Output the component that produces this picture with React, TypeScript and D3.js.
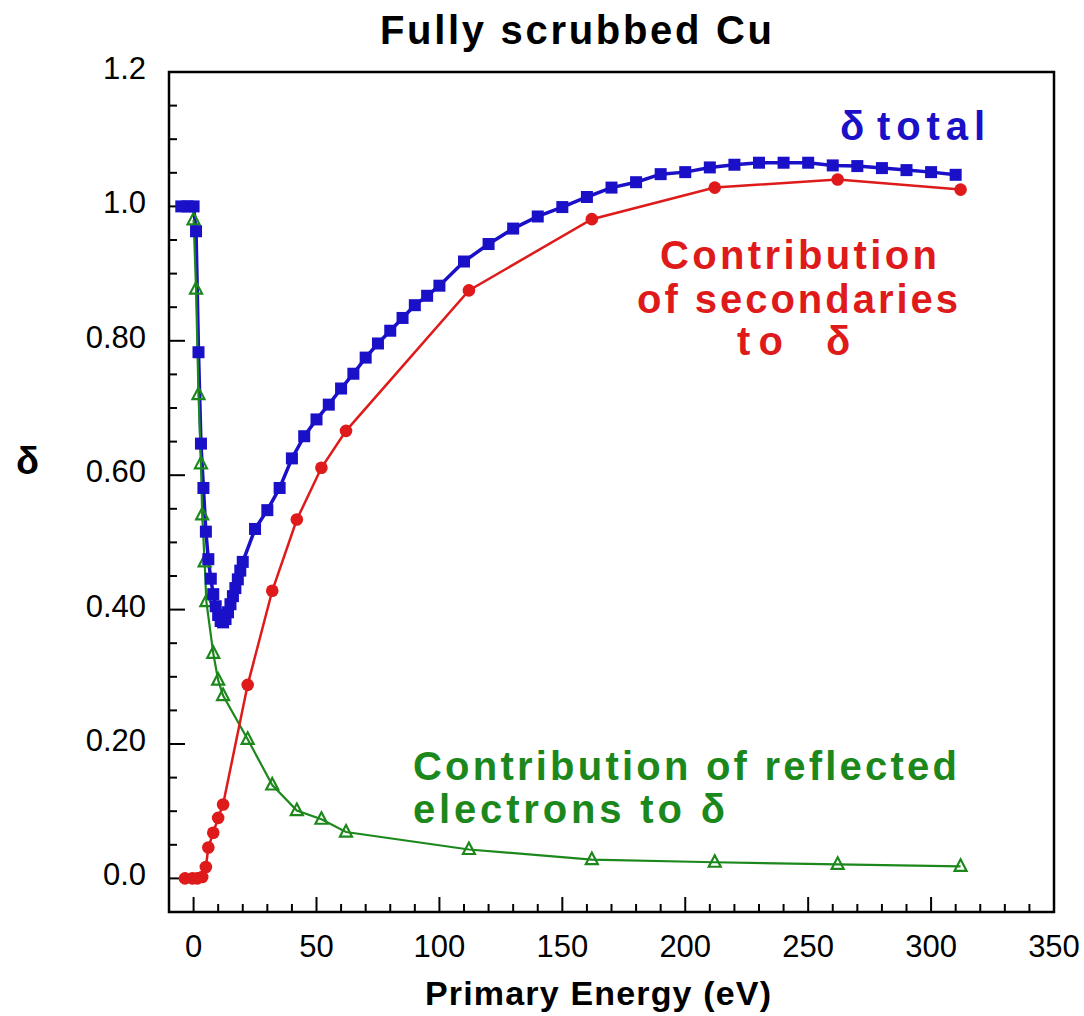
import React from "react";
import * as d3 from "d3";

// δ total (blue squares)
const totalE = [-5, -2.5, 0, 1, 2, 3, 4, 5, 6, 7, 8, 9, 10, 11, 12, 13, 14, 15, 16, 17, 18, 19, 20,
  25, 30, 35, 40, 45, 50, 55, 60, 65, 70, 75, 80, 85, 90, 95, 100,
  110, 120, 130, 140, 150, 160, 170, 180, 190, 200, 210, 220, 230, 240, 250, 260, 270, 280, 290, 300, 310];
const totalD = [1.0, 1.0, 1.0, 0.963, 0.783, 0.647, 0.581, 0.516, 0.475, 0.446, 0.423, 0.405, 0.392, 0.383, 0.381,
  0.386, 0.396, 0.408, 0.42, 0.432, 0.445, 0.458, 0.471,
  0.52, 0.548, 0.581, 0.625, 0.658, 0.683, 0.705, 0.729, 0.751, 0.775, 0.796, 0.815, 0.834, 0.853, 0.867, 0.882,
  0.918, 0.944, 0.967, 0.985, 0.999, 1.014, 1.028, 1.036, 1.048, 1.051, 1.058, 1.062, 1.065, 1.065, 1.065,
  1.061, 1.06, 1.057, 1.054, 1.051, 1.047];

// contribution of secondaries (red circles)
const secE = [-3.5, -0.5, 1.5, 3.5, 5, 6, 8, 10, 12, 22, 32, 42, 52, 62, 112, 162, 212, 262, 312];
const secD = [0, 0, 0, 0.002, 0.017, 0.046, 0.068, 0.09, 0.11, 0.288, 0.428, 0.534, 0.611, 0.666, 0.875, 0.981,
  1.028, 1.04, 1.025];

// contribution of reflected electrons (green triangles)
const reflE = [0, 1, 2, 3, 3.5, 4.5, 5.2, 8, 10, 12, 22, 32, 42, 52, 62, 112, 162, 212, 262, 312];
const reflD = [0.98, 0.877, 0.72, 0.617, 0.541, 0.471, 0.412, 0.335, 0.295, 0.272, 0.207, 0.139, 0.101, 0.088,
  0.069, 0.043, 0.028, 0.024, 0.021, 0.018];

const xTicks = [0, 50, 100, 150, 200, 250, 300, 350];
const yTicks = [0, 0.2, 0.4, 0.6, 0.8, 1.0, 1.2];
const yTickLabels = ["0.0", "0.20", "0.40", "0.60", "0.80", "1.0", "1.2"];

const BLUE = "#1a10c8";
const RED = "#de1a1a";
const GREEN = "#1c881c";
const FONT = "'Liberation Sans', Arial, Helvetica, sans-serif";

const App: React.FC = () => {
  const width = 1084;
  const height = 1016;
  const left = 169, right = 1054, top = 72, bottom = 912;

  const x = d3.scaleLinear().domain([-10, 350]).range([left, right]);
  const y = d3.scaleLinear().domain([-0.05, 1.2]).range([bottom, top]);

  const line = d3.line<[number, number]>()
    .x((d) => x(d[0]))
    .y((d) => y(d[1]));

  const totalPts = totalE.map((e, i) => [e, totalD[i]] as [number, number]);
  const secPts = secE.map((e, i) => [e, secD[i]] as [number, number]);
  const reflPts = reflE.map((e, i) => [e, reflD[i]] as [number, number]);

  // minor ticks every 10 eV / 0.05
  const xMinor = d3.range(-10, 351, 10);
  const yMinor = d3.range(-1, 25).map((k) => k * 0.05);

  const tri = (cx: number, cy: number) =>
    `M${cx},${cy - 7} L${cx + 6},${cy + 4.5} L${cx - 6},${cy + 4.5} Z`;

  return (
    <svg width={width} height={height} style={{ position: "fixed", left: 0, top: 0, background: "#fff" }}
      fontFamily={FONT}>
      <rect width={width} height={height} fill="#fff" />

      {/* title */}
      <text x={380} y={44} fontSize={40} fontWeight="bold" textLength={392} lengthAdjust="spacing">
        Fully scrubbed Cu
      </text>

      {/* ticks */}
      {xMinor.map((v) => {
        const major = Math.round(v) % 50 === 0;
        return (
          <line key={"xt" + v} x1={x(v)} x2={x(v)} y1={bottom} y2={bottom - (major ? 15 : 8)}
            stroke="#000" strokeWidth={2} />
        );
      })}
      {yMinor.map((v, i) => {
        const major = Math.abs(v / 0.2 - Math.round(v / 0.2)) < 1e-6;
        return (
          <line key={"yt" + i} x1={left} x2={left + (major ? 16 : 8)} y1={y(v)} y2={y(v)}
            stroke="#000" strokeWidth={2} />
        );
      })}

      {/* frame */}
      <rect x={left} y={top} width={right - left} height={bottom - top} fill="none" stroke="#000" strokeWidth={2.5} />

      {/* tick labels */}
      {xTicks.map((v) => (
        <text key={"xl" + v} x={x(v)} y={957} fontSize={31} textAnchor="middle">{v}</text>
      ))}
      {yTicks.map((v, i) => (
        <text key={"yl" + v} x={146} y={y(v) + 7} fontSize={31} textAnchor="end">{yTickLabels[i]}</text>
      ))}

      {/* axis titles */}
      <text x={425} y={1005} fontSize={34} fontWeight="bold" textLength={346} lengthAdjust="spacing">
        Primary Energy (eV)
      </text>
      <text x={16} y={474} fontSize={38} fontWeight="bold">δ</text>

      {/* series */}
      <path d={line(totalPts) || ""} fill="none" stroke={BLUE} strokeWidth={3.5} />
      <path d={line(reflPts) || ""} fill="none" stroke={GREEN} strokeWidth={2.2} />
      {reflPts.map((d, i) => (
        <path key={"g" + i} d={tri(x(d[0]), y(d[1]))} fill="none" stroke={GREEN} strokeWidth={2.2} />
      ))}
      {totalPts.map((d, i) => (
        <rect key={"b" + i} x={x(d[0]) - 6} y={y(d[1]) - 6} width={12} height={12} fill={BLUE} />
      ))}
      <path d={line(secPts) || ""} fill="none" stroke={RED} strokeWidth={2.5} />
      {secPts.map((d, i) => (
        <circle key={"r" + i} cx={x(d[0])} cy={y(d[1])} r={6.3} fill={RED} />
      ))}

      {/* annotations */}
      <g fill={BLUE} fontSize={40} fontWeight="bold">
        <text x={840} y={140}>δ</text>
        <text x={877} y={140} textLength={108} lengthAdjust="spacing">total</text>
      </g>
      <g fill={RED} fontSize={40} fontWeight="bold">
        <text x={660} y={269} textLength={277} lengthAdjust="spacing">Contribution</text>
        <text x={637} y={313} textLength={321} lengthAdjust="spacing">of secondaries</text>
        <text x={737} y={355} textLength={46} lengthAdjust="spacing">to</text>
        <text x={826} y={355}>δ</text>
      </g>
      <g fill={GREEN} fontSize={40} fontWeight="bold">
        <text x={413} y={780} textLength={544} lengthAdjust="spacing">Contribution of reflected</text>
        <text x={413} y={823} textLength={312} lengthAdjust="spacing">electrons to δ</text>
      </g>
    </svg>
  );
};

export default App;
